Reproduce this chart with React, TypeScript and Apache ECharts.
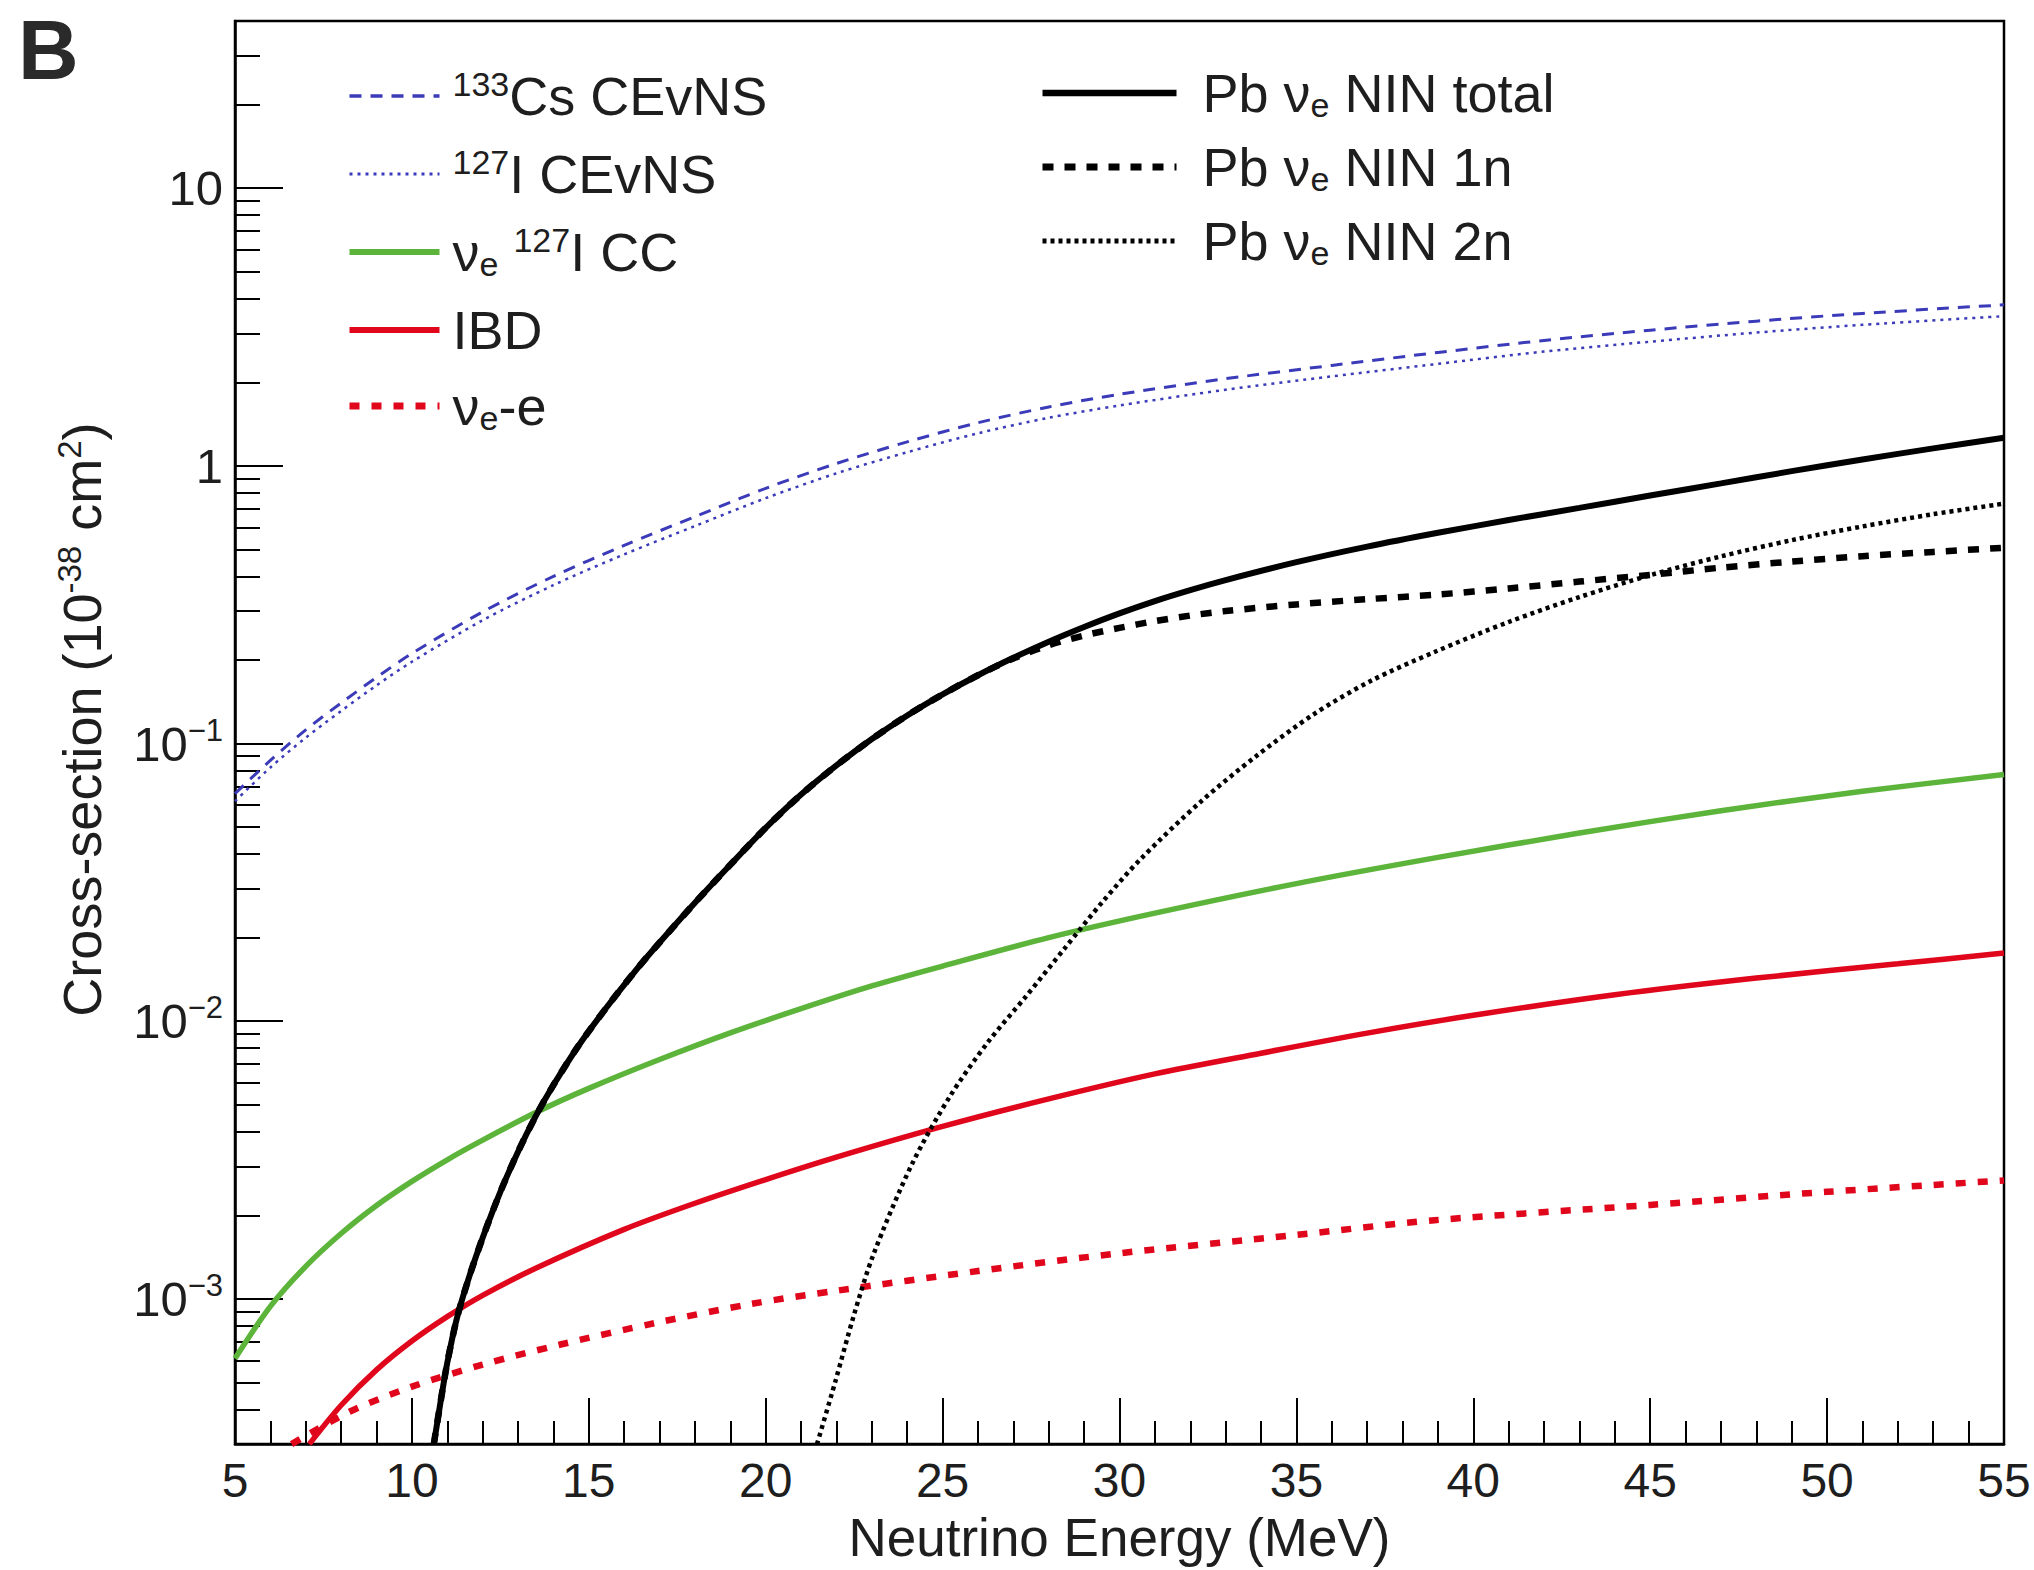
import React, { useEffect, useRef } from "react";
import * as echarts from "echarts";

const FONT = '"Liberation Sans", Arial, Helvetica, sans-serif';
const TEXT = "#1e1e1e";

// ---------- data (cross-sections in 1e-38 cm^2, energies in MeV) ----------
const energyCEvNS = [5, 6, 7, 8, 9, 10, 12, 14, 16, 18, 20, 22, 24, 26, 28, 30, 33, 36, 39, 42, 45, 48, 51, 55];
const sigmaCs133 = [0.066, 0.087, 0.112, 0.14, 0.173, 0.211, 0.298, 0.4, 0.517, 0.656, 0.83, 1.02, 1.22, 1.43, 1.63, 1.81, 2.06, 2.3, 2.56, 2.83, 3.08, 3.32, 3.54, 3.8];
const sigmaI127 = [0.062, 0.082, 0.105, 0.131, 0.162, 0.197, 0.278, 0.372, 0.48, 0.607, 0.765, 0.94, 1.12, 1.31, 1.49, 1.65, 1.88, 2.1, 2.33, 2.58, 2.8, 3.02, 3.22, 3.46];

const energyCC = [5, 6, 7, 8, 9, 10, 11, 12, 13.5, 15, 17, 19, 21, 23, 25, 28, 31, 35, 39, 43, 47, 51, 55];
const sigmaCC = [6.1e-4, 9.4e-4, 1.31e-3, 1.72e-3, 2.17e-3, 2.65e-3, 3.17e-3, 3.73e-3, 4.69e-3, 5.73e-3, 7.28e-3, 9.08e-3, 1.11e-2, 1.34e-2, 1.58e-2, 2.0e-2, 2.45e-2, 3.13e-2, 3.89e-2, 4.76e-2, 5.73e-2, 6.73e-2, 7.73e-2];

const energyIBD = [7.1, 8, 9, 10, 11, 12, 13.5, 16, 18, 20, 22, 25, 28, 31, 34, 37, 40, 44, 48, 52, 55];
const sigmaIBD = [3.0e-4, 4.14e-4, 5.55e-4, 7.05e-4, 8.63e-4, 1.03e-3, 1.29e-3, 1.78e-3, 2.21e-3, 2.69e-3, 3.24e-3, 4.18e-3, 5.25e-3, 6.46e-3, 7.67e-3, 9.06e-3, 1.05e-2, 1.245e-2, 1.43e-2, 1.61e-2, 1.76e-2];

const energyNuE = [6.6, 8.25, 10, 12, 14.2, 16.9, 19.6, 22, 26, 30, 35, 38.9, 45, 50, 55];
const sigmaNuE = [3.0e-4, 3.93e-4, 4.83e-4, 5.8e-4, 6.85e-4, 8.2e-4, 9.6e-4, 1.07e-3, 1.26e-3, 1.46e-3, 1.7e-3, 1.92e-3, 2.18e-3, 2.43e-3, 2.67e-3];

const energyNIN = [10.62, 10.8, 11.0, 11.27, 11.6, 12.0, 12.5, 13.0, 13.5, 14.0, 14.7, 15.5, 16.3, 17.0, 18.0, 19.0, 20, 21, 22, 23, 24, 25, 26, 27, 28, 29, 30, 31, 32, 33, 35, 37, 39, 41, 43, 45, 47, 49, 51, 53, 55];
const sigmaNINTotal = [3.0e-4, 4.18e-4, 5.89e-4, 8.5e-4, 1.18e-3, 1.66e-3, 2.43e-3, 3.39e-3, 4.55e-3, 5.89e-3, 8.13e-3, 1.12e-2, 1.51e-2, 1.92e-2, 2.67e-2, 3.66e-2, 4.97e-2, 6.55e-2, 8.34e-2, 0.1038, 0.1262, 0.1503, 0.1762, 0.2037, 0.2328, 0.263, 0.2944, 0.326, 0.357, 0.388, 0.45, 0.512, 0.574, 0.638, 0.706, 0.782, 0.865, 0.957, 1.054, 1.156, 1.262];
const sigmaNIN1n = [3.0e-4, 4.18e-4, 5.89e-4, 8.5e-4, 1.18e-3, 1.66e-3, 2.43e-3, 3.39e-3, 4.55e-3, 5.89e-3, 8.13e-3, 1.12e-2, 1.51e-2, 1.92e-2, 2.67e-2, 3.66e-2, 4.97e-2, 6.55e-2, 8.34e-2, 0.1038, 0.1262, 0.1503, 0.1762, 0.2025, 0.226, 0.245, 0.261, 0.276, 0.289, 0.3, 0.317, 0.331, 0.344, 0.362, 0.383, 0.405, 0.43, 0.452, 0.473, 0.49, 0.507];

const energyNIN2n = [21.45, 21.96, 22.5, 23.04, 24.12, 25.21, 26.28, 27.36, 28.45, 29.53, 30.6, 32.3, 33.85, 35.47, 37.1, 38.92, 41, 43, 45, 47, 49, 51, 53, 55];
const sigmaNIN2n = [3.0e-4, 5.0e-4, 8.8e-4, 1.44e-3, 3.03e-3, 5.37e-3, 8.4e-3, 1.23e-2, 1.83e-2, 2.7e-2, 3.84e-2, 6.18e-2, 8.98e-2, 0.127, 0.168, 0.214, 0.274, 0.337, 0.404, 0.472, 0.54, 0.605, 0.67, 0.731];

// ---------- labels ----------
const yTickExponents = [-3, -2, -1, 0, 1];
const xTitle = "Neutrino Energy (MeV)";
const yTitleRich = "{t|Cross-section (10}{s|-38}{t| cm}{s|2}{t|)}";
const panelLabel = "B";

const leftLegendNames = ["133Cs CEvNS", "127I CEvNS", "nue 127I CC", "IBD", "nue-e"];
const rightLegendNames = ["Pb nue NIN total", "Pb nue NIN 1n", "Pb nue NIN 2n"];
const legendRich: Record<string, string> = {
  "133Cs CEvNS": "{sup|133}{t|Cs CEvNS}",
  "127I CEvNS": "{sup|127}{t|I CEvNS}",
  "nue 127I CC": "{t|ν}{sub|e}{t| }{sup|127}{t|I CC}",
  IBD: "{t|IBD}",
  "nue-e": "{t|ν}{sub|e}{t|-e}",
  "Pb nue NIN total": "{t|Pb ν}{sub|e}{t| NIN total}",
  "Pb nue NIN 1n": "{t|Pb ν}{sub|e}{t| NIN 1n}",
  "Pb nue NIN 2n": "{t|Pb ν}{sub|e}{t| NIN 2n}",
};

const BLUE = "#3b3bb9";
const GREEN = "#5cb53a";
const RED = "#e0061b";
const BLACK = "#000000";

type Spec = { name: string; xs: number[]; ys: number[]; color: string; width: number; dash: any; z: number };
const specs: Spec[] = [
  { name: "133Cs CEvNS", xs: energyCEvNS, ys: sigmaCs133, color: BLUE, width: 3, dash: [12, 9], z: 3 },
  { name: "127I CEvNS", xs: energyCEvNS, ys: sigmaI127, color: BLUE, width: 2.5, dash: [3, 5], z: 3 },
  { name: "nue 127I CC", xs: energyCC, ys: sigmaCC, color: GREEN, width: 5.5, dash: "solid", z: 4 },
  { name: "IBD", xs: energyIBD, ys: sigmaIBD, color: RED, width: 5.5, dash: "solid", z: 4 },
  { name: "nue-e", xs: energyNuE, ys: sigmaNuE, color: RED, width: 6.5, dash: [10, 12], z: 4 },
  { name: "Pb nue NIN total", xs: energyNIN, ys: sigmaNINTotal, color: BLACK, width: 6, dash: "solid", z: 5 },
  { name: "Pb nue NIN 1n", xs: energyNIN, ys: sigmaNIN1n, color: BLACK, width: 6.5, dash: [11, 11], z: 5 },
  { name: "Pb nue NIN 2n", xs: energyNIN2n, ys: sigmaNIN2n, color: BLACK, width: 4.5, dash: [4, 4], z: 5 },
];

const richLegend = {
  t: { fontSize: 54, lineHeight: 58, fontFamily: FONT, color: TEXT },
  sup: { fontSize: 34, lineHeight: 30, verticalAlign: "top", fontFamily: FONT, color: TEXT },
  sub: { fontSize: 34, lineHeight: 30, verticalAlign: "bottom", fontFamily: FONT, color: TEXT },
};

function legendData(names: string[]) {
  return names.map((n) => {
    const s = specs.find((p) => p.name === n)!;
    return {
      name: n,
      itemStyle: { opacity: 0 },
      lineStyle: { color: s.color, width: s.width + 0.5, type: s.dash, opacity: 1 },
    };
  });
}

export default function App() {
  const ref = useRef<HTMLDivElement>(null);
  useEffect(() => {
    const chart = echarts.init(ref.current!, null, { renderer: "svg", width: 2034, height: 1570 });
    const option: any = {
      animation: false,
      backgroundColor: "#ffffff",
      grid: { left: 235, right: 30, top: 21, bottom: 125, show: true, borderColor: "#000", borderWidth: 2.5, backgroundColor: "transparent" },
      xAxis: {
        type: "value",
        min: 5,
        max: 55,
        interval: 5,
        axisLine: { show: true, onZero: false, lineStyle: { color: "#000", width: 2.5 } },
        axisTick: { show: true, inside: true, length: 46, lineStyle: { color: "#000", width: 2 } },
        minorTick: { show: true, splitNumber: 5, length: 23, lineStyle: { color: "#000", width: 2 } },
        splitLine: { show: false },
        minorSplitLine: { show: false },
        axisLabel: { margin: 12, fontSize: 48, color: TEXT, fontFamily: FONT },
        name: xTitle,
        nameLocation: "middle",
        nameGap: 62,
        nameTextStyle: { fontSize: 53, color: TEXT, fontFamily: FONT, lineHeight: 56 },
      },
      yAxis: {
        type: "log",
        logBase: 10,
        min: 3e-4,
        max: 40,
        axisLine: { show: true, onZero: false, lineStyle: { color: "#000", width: 2.5 } },
        axisTick: { show: true, inside: true, length: 48, lineStyle: { color: "#000", width: 2 } },
        minorTick: { show: true, splitNumber: 9, length: 25, lineStyle: { color: "#000", width: 2 } },
        splitLine: { show: false },
        minorSplitLine: { show: false },
        axisLabel: {
          margin: 12,
          showMinLabel: false,
          showMaxLabel: false,
          formatter: (v: number) => {
            const lg = Math.log10(v);
            const e = Math.round(lg);
            if (Math.abs(lg - e) > 1e-6 || yTickExponents.indexOf(e) < 0) return "";
            if (e === 0) return "{b|1}";
            if (e === 1) return "{b|10}";
            return "{b|10}{e|−" + -e + "}";
          },
          rich: {
            b: { fontSize: 49, lineHeight: 58, fontFamily: FONT, color: TEXT },
            e: { fontSize: 31, lineHeight: 30, verticalAlign: "top", fontFamily: FONT, color: TEXT },
          },
        },
        name: yTitleRich,
        nameLocation: "middle",
        nameGap: 124,
        nameTextStyle: {
          fontSize: 54,
          color: TEXT,
          fontFamily: FONT,
          padding: [0, 0, 0, 26],
          rich: {
            t: { fontSize: 54, lineHeight: 58, fontFamily: FONT, color: TEXT },
            s: { fontSize: 33, lineHeight: 28, verticalAlign: "top", fontFamily: FONT, color: TEXT },
          },
        },
      },
      legend: [
        {
          orient: "vertical",
          left: 346,
          top: 67,
          itemWidth: 90,
          itemHeight: 20,
          itemGap: 22,
          padding: 0,
          selectedMode: false,
          itemStyle: { opacity: 0 },
          data: legendData(leftLegendNames),
          formatter: (n: string) => legendRich[n],
          textStyle: { fontSize: 54, fontFamily: FONT, color: TEXT, padding: [0, 0, 0, 8], rich: richLegend },
        },
        {
          orient: "vertical",
          left: 1039,
          top: 66,
          itemWidth: 134,
          itemHeight: 20,
          itemGap: 18,
          padding: 0,
          selectedMode: false,
          itemStyle: { opacity: 0 },
          data: legendData(rightLegendNames),
          formatter: (n: string) => legendRich[n],
          textStyle: { fontSize: 54, fontFamily: FONT, color: TEXT, padding: [0, 0, 0, 21], rich: richLegend },
        },
      ],
      graphic: [
        {
          type: "text",
          left: 18,
          top: 8,
          style: { text: panelLabel, font: "bold 84px " + FONT, fill: "#2a2a2a" },
        },
      ],
      series: specs.map((s) => ({
        name: s.name,
        type: "line",
        data: s.xs.map((x, i) => [x, s.ys[i]]),
        symbol: "none",
        showSymbol: false,
        smooth: 0.3,
        clip: true,
        z: s.z,
        lineStyle: { color: s.color, width: s.width, type: s.dash, cap: "butt" },
        itemStyle: { color: s.color },
        emphasis: { disabled: true },
      })),
    };
    chart.setOption(option);
    return () => chart.dispose();
  }, []);
  return (
    <div
      ref={ref}
      style={{ position: "fixed", left: 0, top: 0, width: 2034, height: 1570, background: "#fff" }}
    />
  );
}
